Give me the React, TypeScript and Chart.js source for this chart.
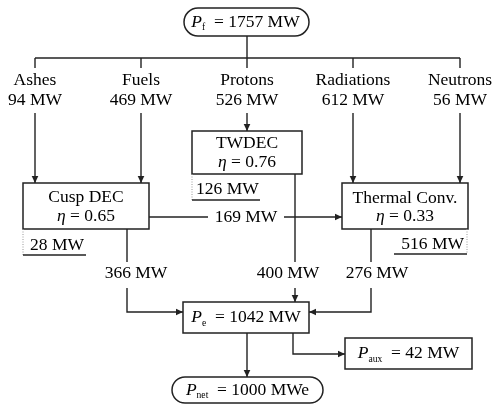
import React, { useEffect, useRef } from "react";
import { Chart, registerables } from "chart.js";

Chart.register(...registerables);

// ---------------- DATA ----------------
const fusionPowerMW = 1757;
const sourceNames = ["Ashes", "Fuels", "Protons", "Radiations", "Neutrons"];
const sourcePowerMW = [94, 469, 526, 612, 56];
const converterNames = ["Cusp DEC", "TWDEC", "Thermal Conv."];
const converterEfficiency = [0.65, 0.76, 0.33];
const converterLossMW = [28, 126, 516];
const transferFlowMW = 169; // Cusp DEC -> Thermal Conv.
const electricFlowMW = [366, 400, 276]; // Cusp, TWDEC, Thermal -> Pe
const grossElectricMW = 1042;
const auxPowerMW = 42;
const netPowerMW = 1000;

// ---------------- LAYOUT (diagram coordinates) ----------------
const W = 492;
const H = 406;
const FONT = '"Liberation Serif", "Times New Roman", serif';
const FS = 17.5;
const INK = "#222";

const sourceX = [35, 141, 247, 353, 460];
const busY = 58;
const nameY = 80;
const valueY = 100;
const srcLineTop = 113;

type Box = { x0: number; y0: number; x1: number; y1: number; pill?: boolean };
const boxPf: Box = { x0: 184, y0: 8, x1: 309, y1: 36, pill: true };
const boxCusp: Box = { x0: 23, y0: 183, x1: 149, y1: 229 };
const boxTw: Box = { x0: 192, y0: 131, x1: 302, y1: 174 };
const boxTh: Box = { x0: 342, y0: 183, x1: 468, y1: 229 };
const boxPe: Box = { x0: 183, y0: 302, x1: 309, y1: 333 };
const boxAux: Box = { x0: 345, y0: 338, x1: 472, y1: 369 };
const boxNet: Box = { x0: 172, y0: 377, x1: 323, y1: 403, pill: true };

type Poly = { pts: [number, number][]; arrow?: boolean };
const polylines: Poly[] = [
  { pts: [[247, 36], [247, busY]] },
  { pts: [[sourceX[0], busY], [sourceX[4], busY]] },
  ...sourceX.map((x) => ({ pts: [[x, busY], [x, 68]] as [number, number][] })),
  { pts: [[sourceX[0], srcLineTop], [sourceX[0], boxCusp.y0]], arrow: true },
  { pts: [[sourceX[1], srcLineTop], [sourceX[1], boxCusp.y0]], arrow: true },
  { pts: [[sourceX[2], srcLineTop], [sourceX[2], boxTw.y0]], arrow: true },
  { pts: [[sourceX[3], srcLineTop], [sourceX[3], boxTh.y0]], arrow: true },
  { pts: [[sourceX[4], srcLineTop], [sourceX[4], boxTh.y0]], arrow: true },
  { pts: [[boxCusp.x1, 217], [208, 217]] },
  { pts: [[284, 217], [boxTh.x0, 217]], arrow: true },
  { pts: [[127, boxCusp.y1], [127, 262]] },
  { pts: [[127, 288], [127, 312], [boxPe.x0, 312]], arrow: true },
  { pts: [[295, boxTw.y1], [295, 262]] },
  { pts: [[295, 288], [295, boxPe.y0]], arrow: true },
  { pts: [[371, boxTh.y1], [371, 262]] },
  { pts: [[371, 288], [371, 312], [boxPe.x1, 312]], arrow: true },
  { pts: [[247, boxPe.y1], [247, boxNet.y0]], arrow: true },
  { pts: [[293, boxPe.y1], [293, 354], [boxAux.x0, 354]], arrow: true },
];

type Part = { t: string; it?: boolean; sub?: boolean };

function drawRich(
  ctx: CanvasRenderingContext2D,
  parts: Part[],
  x: number,
  y: number,
  align: "left" | "center" | "right" = "center"
) {
  const fontFor = (p: Part) =>
    `${p.it ? "italic " : ""}${p.sub ? FS * 0.55 : FS}px ${FONT}`;
  const widths: number[] = [];
  let total = 0;
  for (const p of parts) {
    ctx.font = fontFor(p);
    const w = ctx.measureText(p.t).width;
    widths.push(w);
    total += w;
  }
  let sx = align === "center" ? x - total / 2 : align === "right" ? x - total : x;
  ctx.textAlign = "left";
  ctx.textBaseline = "middle";
  ctx.fillStyle = "#000";
  parts.forEach((p, i) => {
    ctx.font = fontFor(p);
    ctx.fillText(p.t, sx, p.sub ? y + FS * 0.32 : y);
    sx += widths[i];
  });
}

const EQ = "\u2002= ";

const diagramPlugin = {
  id: "diagram",
  afterDatasetsDraw(chart: any) {
    const ctx: CanvasRenderingContext2D = chart.ctx;
    const sx = chart.scales.x;
    const sy = chart.scales.y;
    const px = (v: number) => sx.getPixelForValue(v);
    const py = (v: number) => sy.getPixelForValue(v);
    ctx.save();

    // arrowheads
    ctx.fillStyle = INK;
    for (const pl of polylines) {
      if (!pl.arrow) continue;
      const n = pl.pts.length;
      const [ax, ay] = pl.pts[n - 2];
      const [bx, by] = pl.pts[n - 1];
      const x1 = px(bx), y1 = py(by), x0 = px(ax), y0 = py(ay);
      const ang = Math.atan2(y1 - y0, x1 - x0);
      const L = 7, hw = 3.3;
      ctx.beginPath();
      ctx.moveTo(x1, y1);
      ctx.lineTo(x1 - L * Math.cos(ang) + hw * Math.sin(ang), y1 - L * Math.sin(ang) - hw * Math.cos(ang));
      ctx.lineTo(x1 - L * Math.cos(ang) - hw * Math.sin(ang), y1 - L * Math.sin(ang) + hw * Math.cos(ang));
      ctx.closePath();
      ctx.fill();
    }

    // boxes
    const drawBox = (b: Box) => {
      const x0 = px(b.x0), x1 = px(b.x1), y0 = py(b.y0), y1 = py(b.y1);
      ctx.beginPath();
      if (b.pill) {
        ctx.roundRect(x0, y0, x1 - x0, y1 - y0, (y1 - y0) / 2);
      } else {
        ctx.rect(x0, y0, x1 - x0, y1 - y0);
      }
      ctx.fillStyle = "#fff";
      ctx.fill();
      ctx.lineWidth = 1.5;
      ctx.strokeStyle = INK;
      ctx.stroke();
    };
    [boxPf, boxCusp, boxTw, boxTh, boxPe, boxAux, boxNet].forEach(drawBox);

    // source labels
    sourceNames.forEach((name, i) => {
      drawRich(ctx, [{ t: name }], px(sourceX[i]), py(nameY));
      drawRich(ctx, [{ t: `${sourcePowerMW[i]} MW` }], px(sourceX[i]), py(valueY));
    });

    // total boxes
    const mid = (b: Box) => [px((b.x0 + b.x1) / 2), py((b.y0 + b.y1) / 2)];
    let [cx, cy] = mid(boxPf);
    drawRich(ctx, [{ t: "P", it: true }, { t: "f", sub: true }, { t: `${EQ}${fusionPowerMW} MW` }], cx - 1, cy);
    [cx, cy] = mid(boxPe);
    drawRich(ctx, [{ t: "P", it: true }, { t: "e", sub: true }, { t: `${EQ}${grossElectricMW} MW` }], cx, cy);
    [cx, cy] = mid(boxAux);
    drawRich(ctx, [{ t: "P", it: true }, { t: "aux", sub: true }, { t: `${EQ}${auxPowerMW} MW` }], cx, cy);
    [cx, cy] = mid(boxNet);
    drawRich(ctx, [{ t: "P", it: true }, { t: "net", sub: true }, { t: `${EQ}${netPowerMW} MWe` }], cx, cy);

    // converters
    const convBoxes = [boxCusp, boxTw, boxTh];
    const convLineY = [[197, 216], [143, 162], [198, 216]];
    convBoxes.forEach((b, i) => {
      const c = px((b.x0 + b.x1) / 2);
      drawRich(ctx, [{ t: converterNames[i] }], c, py(convLineY[i][0]));
      drawRich(ctx, [{ t: "η", it: true }, { t: ` = ${converterEfficiency[i].toFixed(2)}` }], c, py(convLineY[i][1]));
    });

    // losses: dotted side line + underline
    const losses = [
      { i: 0, dotX: 23, top: 229, uy: 255, ux0: 23, ux1: 86, tx: 30, ty: 245, align: "left" as const },
      { i: 1, dotX: 192, top: 174, uy: 200, ux0: 192, ux1: 260, tx: 196, ty: 189, align: "left" as const },
      { i: 2, dotX: 467, top: 229, uy: 254, ux0: 394, ux1: 467, tx: 464, ty: 244, align: "right" as const },
    ];
    for (const l of losses) {
      ctx.save();
      ctx.strokeStyle = "#999";
      ctx.lineWidth = 1;
      ctx.setLineDash([1, 1.5]);
      ctx.beginPath();
      ctx.moveTo(px(l.dotX), py(l.top));
      ctx.lineTo(px(l.dotX), py(l.uy));
      ctx.stroke();
      ctx.restore();
      ctx.strokeStyle = INK;
      ctx.lineWidth = 1.4;
      ctx.beginPath();
      ctx.moveTo(px(l.ux0), py(l.uy));
      ctx.lineTo(px(l.ux1), py(l.uy));
      ctx.stroke();
      drawRich(ctx, [{ t: `${converterLossMW[l.i]} MW` }], px(l.tx), py(l.ty), l.align);
    }

    // flow labels
    drawRich(ctx, [{ t: `${transferFlowMW} MW` }], px(246), py(217));
    const flowLabelX = [136, 288, 377];
    electricFlowMW.forEach((v, i) => {
      drawRich(ctx, [{ t: `${v} MW` }], px(flowLabelX[i]), py(273));
    });

    ctx.restore();
  },
};

export default function App() {
  const ref = useRef<HTMLCanvasElement | null>(null);
  useEffect(() => {
    if (!ref.current) return;
    const chart = new Chart(ref.current, {
      type: "scatter",
      data: {
        datasets: polylines.map((pl) => ({
          data: pl.pts.map(([x, y]) => ({ x, y })),
          showLine: true,
          borderColor: INK,
          borderWidth: 1.4,
          pointRadius: 0,
          fill: false,
          tension: 0,
        })),
      },
      options: {
        animation: false,
        responsive: false,
        devicePixelRatio: 1,
        layout: { padding: 0 },
        plugins: { legend: { display: false }, tooltip: { enabled: false } },
        scales: {
          x: { type: "linear", min: 0, max: W, display: false },
          y: { type: "linear", min: 0, max: H, reverse: true, display: false },
        },
      },
      plugins: [diagramPlugin],
    });
    return () => chart.destroy();
  }, []);
  return (
    <div style={{ position: "absolute", left: 0, top: 0, width: W, height: H, background: "#fff" }}>
      <canvas ref={ref} width={W} height={H} style={{ display: "block" }} />
    </div>
  );
}
